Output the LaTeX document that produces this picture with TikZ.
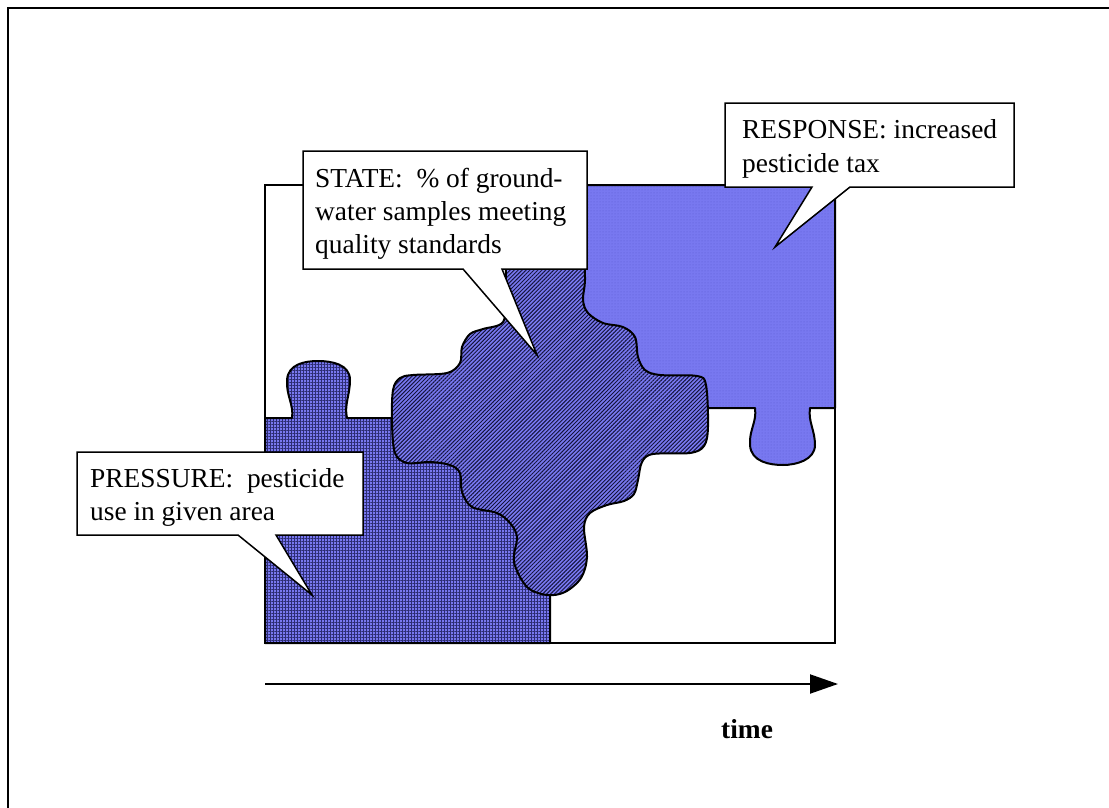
\documentclass[tikz,border=0pt]{standalone}
\usepackage{fontspec}
\setmainfont{Liberation Serif}
\usetikzlibrary{patterns.meta,arrows.meta}
\definecolor{pieceblue}{RGB}{120,120,240}
\definecolor{dotblue}{RGB}{92,92,210}
\definecolor{gridink}{RGB}{45,45,115}
\definecolor{hatchink}{RGB}{20,20,60}
\begin{document}
\begin{tikzpicture}[x=1pt,y=-1pt,
  piece/.style={line width=2pt, line join=round, preaction={fill=pieceblue}},
  bubble/.style={draw=black, fill=white, line width=1.5pt, line join=miter},
  label/.style={font=\fontsize{27.4pt}{33pt}\selectfont, inner sep=0pt, anchor=base west},
  axis/.style={line width=2pt, -{Triangle[length=28pt,width=19pt]}}]
\useasboundingbox (0,0) rectangle (1109,808);

% page border (top and left edges)
\draw[line width=2.5pt] (8,808) -- (8,8) -- (1109,8);

% puzzle frame
\draw[line width=1.5pt, fill=white] (265,185) rectangle (835,643);

% RESPONSE piece (top right)
\draw[piece, pattern={Dots[distance=3pt,radius=0.5pt]}, pattern color=dotblue]
  (585,185) -- (835,185) -- (835,408) -- (810,408)
  .. controls (808,422) and (815,430) .. (815,445)
  .. controls (815,460) and (796,465) .. (783,465)
  .. controls (770,465) and (751,462) .. (750,445)
  .. controls (749,430) and (757,422) .. (755,408)
  -- (690,408) -- (620,400) -- (560,320) -- (560,269) -- (585,269) -- cycle;

% PRESSURE piece (bottom left)
\draw[piece, pattern={Hatch[angle=0,distance=3pt,line width=0.25pt]}, pattern color=gridink]
  (265,418) -- (292,418)
  .. controls (294,405) and (286,395) .. (287,380)
  .. controls (288,364) and (305,361) .. (318,361)
  .. controls (331,361) and (350,364) .. (350,380)
  .. controls (350,395) and (344,405) .. (347,418)
  -- (420,418) -- (500,480) -- (550,560) -- (550,643) -- (265,643) -- cycle;

% STATE piece (centre)
\draw[piece, pattern={Lines[angle=45,distance=2.8pt,line width=0.95pt]}, pattern color=hatchink]
  plot[smooth cycle, tension=0.55] coordinates {
  (512,205) (572,205) (583,250) (585,280) (583,300) (588,313) (603,323) (623,327)
  (635,337) (638,357) (645,370) (660,375) (697,376) (706,385) (708,427)
  (704,446) (690,453) (653,454) (642,462) (638,480) (634,494) (624,501)
  (607,505) (590,513) (584,527) (587,557) (581,578) (565,592) (547,595)
  (527,587) (514,562) (517,537) (510,523) (497,513) (472,507) (462,492)
  (460,473) (450,465) (430,462) (407,463) (395,453) (392,423) (393,390)
  (400,378) (413,375) (447,373) (460,363) (462,347) (470,334) (483,329)
  (503,322) (506,295) (506,250)};

% callouts
\draw[bubble] (303,151) -- (587,151) -- (587,269) -- (502,269) -- (537,355)
  -- (463,269) -- (303,269) -- cycle;
\draw[bubble] (77,452) -- (363,452) -- (363,535) -- (276,535) -- (312,595)
  -- (238,535) -- (77,535) -- cycle;
\draw[bubble] (725,103) -- (1014,103) -- (1014,187) -- (850,187) -- (775,247)
  -- (812,187) -- (725,187) -- cycle;

\node[label] (state1) at (315,187) {STATE: \ \% of ground-};
\node[label] (state2) at (315,220) {water samples meeting};
\node[label] (state3) at (315,253) {quality standards};
\node[label] (press1) at (90,487) {PRESSURE: \ pesticide};
\node[label] (press2) at (90,520) {use in given area};
\node[label] (resp1) at (742,139) {RESPONSE: increased};
\node[label] (resp2) at (742,172) {pesticide tax};

% time axis
\coordinate (t0) at (265,684);
\coordinate (t1) at (838,684);
\draw[axis] (t0) -- (t1);
\node[label, font=\fontsize{27.4pt}{33pt}\selectfont\bfseries] (time) at (721,738) {time};
\end{tikzpicture}
\end{document}
